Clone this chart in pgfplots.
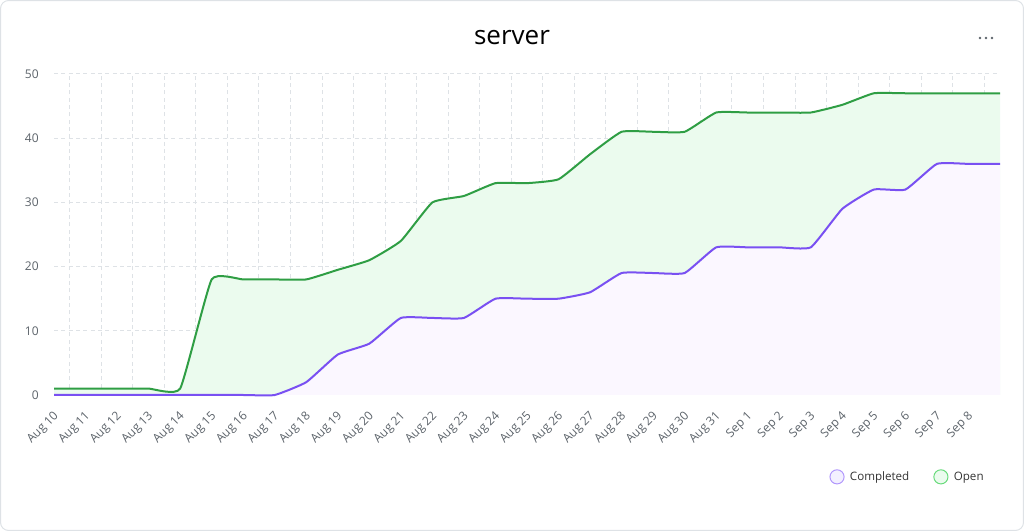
\documentclass[border=0pt]{standalone}
\usepackage{pgfplots}
\pgfplotsset{compat=1.18}
\usepackage{fontspec}
\setmainfont{Open Sans}
\definecolor{gridc}{HTML}{DEE2E6}
\definecolor{tickc}{HTML}{5C636A}
\definecolor{openline}{HTML}{2F9E44}
\definecolor{openfill}{HTML}{EBFBEE}
\definecolor{compline}{HTML}{7950F2}
\definecolor{compfill}{HTML}{FBF7FF}
\definecolor{legcomp}{HTML}{B197FC}
\definecolor{legopen}{HTML}{69DB7C}
\definecolor{legcompf}{HTML}{F3F0FF}

\pgfplotstableread{
i open completed
0 1 0
1 1 0
2 1 0
3 1 0
4 1 0
5 18 0
6 18 0
7 18 0
8 18 2
9 19.5 6.3
10 21 8
11 24 12
12 30 12
13 31 12
14 33 15
15 33 15
16 33.6 15
17 37.5 16
18 41 19
19 41 19
20 41 19
21 44 23
22 44 23
23 44 23
24 44 23
25 45.2 29
26 47 32
27 47 32
28 47 36
29 47 36
30 47 36
}\datatable

\begin{document}
\begin{tikzpicture}
\useasboundingbox (0pt,0pt) rectangle (768pt,398.25pt);
\draw[gridc, line width=0.75pt, rounded corners=6pt] (0.4pt,0.4pt) rectangle (767.6pt,397.85pt);
\node[font=\fontsize{19.5pt}{22pt}\selectfont, text=black] at (384pt,370pt) {server};
\fill[tickc] (735pt,369.75pt) circle (1.1pt);
\fill[tickc] (739.5pt,369.75pt) circle (1.1pt);
\fill[tickc] (744pt,369.75pt) circle (1.1pt);
\begin{axis}[
  at={(40.5pt,102pt)}, anchor=south west,
  scale only axis, width=709.5pt, height=240.75pt,
  xmin=0, xmax=30, ymin=0, ymax=50,
  axis x line*=bottom, axis y line*=left,
  x axis line style={gridc, line width=0.75pt, -},
  y axis line style={draw=none},
  xtick={0,...,29},
  xticklabels={Aug 10,Aug 11,Aug 12,Aug 13,Aug 14,Aug 15,Aug 16,Aug 17,Aug 18,Aug 19,Aug 20,Aug 21,Aug 22,Aug 23,Aug 24,Aug 25,Aug 26,Aug 27,Aug 28,Aug 29,Aug 30,Aug 31,Sep 1,Sep 2,Sep 3,Sep 4,Sep 5,Sep 6,Sep 7,Sep 8},
  minor xtick={0.5,1.5,...,29.5},
  ytick={0,10,...,50},
  major tick length=0pt, minor tick length=0pt,
  xmajorgrids=false, xminorgrids=true, ymajorgrids=true,
  grid style={gridc, line width=0.75pt, dash pattern=on 3pt off 2.5pt},
  minor grid style={gridc, line width=0.75pt, dash pattern=on 3pt off 2.5pt},
  xticklabel style={xshift=4.5pt, yshift=-12pt, rotate=45, anchor=east, font=\fontsize{9pt}{10pt}\selectfont, text=tickc},
  yticklabel style={font=\fontsize{9pt}{10pt}\selectfont, text=tickc, xshift=-8pt},
  /pgf/number format/assume math mode=true,
  clip=false,
  legend columns=2,
  legend style={at={(rel axis cs:0.99,-0.255)}, anchor=east, draw=none, fill=none,
    font=\fontsize{8.7pt}{10pt}\selectfont, text=black!80,
    /tikz/every even column/.append style={column sep=16pt}},
  legend cell align=left,
]
\addplot[draw=none, fill=openfill, smooth, tension=0.25, forget plot] table[x=i, y=open] {\datatable} \closedcycle;
\addplot[draw=none, fill=compfill, smooth, tension=0.25, forget plot] table[x=i, y=completed] {\datatable} \closedcycle;
\addplot[compline, line width=1.5pt, smooth, tension=0.25, forget plot] table[x=i, y=completed] {\datatable};
\addplot[openline, line width=1.5pt, smooth, tension=0.25, forget plot] table[x=i, y=open] {\datatable};
\addlegendimage{legend image code/.code={\draw[legcomp, fill=legcompf, line width=0.75pt] (1.5pt,0pt) circle (5.3pt); \path (9pt,0pt);}}
\addlegendentry{Completed}
\addlegendimage{legend image code/.code={\draw[legopen, fill=openfill, line width=0.75pt] (1.5pt,0pt) circle (5.3pt); \path (9pt,0pt);}}
\addlegendentry{Open}
\end{axis}
\end{tikzpicture}
\end{document}
